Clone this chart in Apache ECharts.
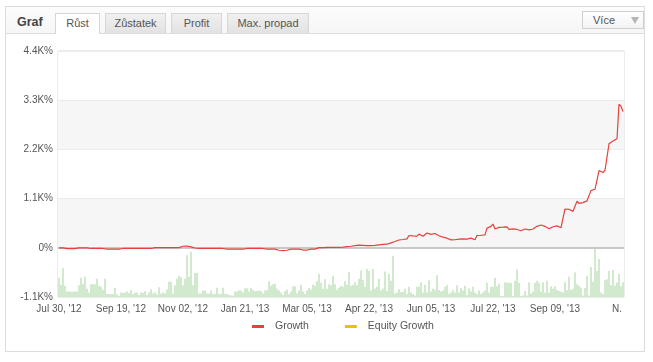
<!DOCTYPE html>
<html>
<head>
<meta charset="utf-8">
<script src="https://cdn.jsdelivr.net/npm/echarts@6/dist/echarts.min.js"></script>
<style>
  html,body{margin:0;padding:0;background:#fff;width:653px;height:362px;overflow:hidden;font-family:"Liberation Sans",Arial,sans-serif;}
  #panel{position:absolute;left:5px;top:6px;width:640px;height:346px;border:1px solid #dcdcdc;box-sizing:border-box;background:#fff;}
  #head{position:absolute;left:0;top:0;width:638px;height:26px;background:linear-gradient(#fcfcfc,#f6f6f6);border-bottom:1px solid #dcdcdc;}
  .t{position:absolute;top:6px;height:20px;box-sizing:border-box;font-size:11px;color:#555;line-height:19px;text-align:center;border:1px solid #d6d6d6;border-bottom:none;background:linear-gradient(#f0f0f0,#e2e2e2);}
  .t.a{background:#fff;height:21px;}
  #graf{position:absolute;left:11px;top:6px;font-size:12.5px;font-weight:bold;color:#444;line-height:19px;}
  #vice{position:absolute;left:576px;top:4px;width:62px;height:18px;box-sizing:border-box;border:1px solid #d0d0d0;background:linear-gradient(#fff,#f3f3f3);font-size:11px;color:#555;line-height:16px;}
  #vice span{position:absolute;left:10px;}
  #tri{position:absolute;left:48px;top:5px;width:0;height:0;border-left:4px solid transparent;border-right:4px solid transparent;border-top:7px solid #b5b5b5;}
  #chart{position:absolute;left:0;top:0;width:653px;height:362px;}
</style>
</head>
<body>
<div id="panel">
  <div id="head"></div>
  <div id="graf">Graf</div>
  <div class="t a" style="left:49px;width:45px;">Růst</div>
  <div class="t" style="left:99px;width:61px;">Zůstatek</div>
  <div class="t" style="left:165px;width:51px;">Profit</div>
  <div class="t" style="left:221px;width:82px;">Max. propad</div>
  <div id="vice"><span>Více</span><div id="tri"></div></div>
</div>
<div id="chart"></div>
<script>
// Tick labels of the category axis (one every 31 points)
const tickLabels = ["Jul 30, '12","Sep 19, '12","Nov 02, '12","Jan 21, '13","Mar 05, '13","Apr 22, '13","Jun 05, '13","Jul 22, '13","Sep 09, '13","N."];
const tickEvery = 31;

// Growth (%) per point
const growth = [
  0,0,0,-20,-20,-20,-20,-20,-20,0,0,0,0,0,0,-15,-15,-15,-15,-15,-15,-15,-15,
  -30,-30,-30,-30,-30,-30,-30,-30,-30,
  -15,-15,-15,-15,-15,-15,-15,-15,-15,-15,-15,-15,-15,-15,-15,-15,
  5,5,5,5,5,5,5,5,5,5,5,5,5,
  20,35,40,40,35,20,-5,-5,-5,
  -15,-15,-15,-15,-15,-15,-15,-15,-15,-15,-15,-15,-15,
  -30,-30,-30,-30,-30,-30,-30,-30,-30,-30,-30,
  -15,-15,-15,-15,-15,-15,-15,-15,-15,-15,
  -30,-30,-30,-30,-30,
  -45,-55,-60,-62,-60,-55,-45,
  -30,-30,-30,-30,-30,
  -50,-50,-50,-50,
  -30,-30,-30,-30,-30,
  5,5,6,7,8,8,9,10,10,10,
  10,12,15,20,25,30,35,42,50,55,
  60,58,55,52,50,50,50,
  50,55,60,65,70,75,80,
  80,95,110,
  120,140,160,
  175,180,185,190,
  200,275,270,265,260,260,305,280,260,300,330,290,300,310,320,295,270,
  255,240,225,215,180,178,180,180,215,195,180,200,215,195,205,215,200,180,275,
  278,280,285,290,441,450,480,531,419,440,456,460,462,465,470,411,420,425,430,
  410,395,381,400,420,441,400,410,420,450,480,501,510,516,480,450,426,426,470,
  509,490,470,450,426,868,865,860,840,815,930,1040,995,1005,1010,1017,1050,1085,
  1279,1295,1309,1320,1728,1705,1683,1730,1773,2326,2355,2386,2410,2439,3209,3164,3044
];
const equityGrowth = [];

// Activity bars (relative height, 100 = full lower band)
const activity = [
  39,25,59,23,11,11,11,11,11,11,24,39,26,41,17,9,26,26,26,37,23,21,14,37,6,6,6,6,19,5,
  2,9,8,9,11,8,14,6,9,9,4,9,8,12,4,9,16,7,9,5,20,7,9,7,15,31,31,7,24,37,43,40,24,37,85,41,92,24,49,49,
  7,7,13,13,7,7,13,6,6,19,6,6,19,6,6,4,3,3,11,11,13,13,9,18,18,11,19,14,12,12,
  13,12,7,13,14,32,23,26,27,17,13,9,4,12,15,6,11,22,22,7,13,25,11,6,13,19,15,25,23,32,
  47,29,17,36,17,26,24,43,26,14,19,
  23,21,32,25,51,23,25,30,24,37,54,35,21,57,53,13,57,17,21,37,13,17,52,12,47,33,84,7,9,16,
  10,10,17,6,21,9,6,3,21,21,30,9,25,9,34,11,17,14,44,14,11,13,21,24,6,9,14,9,24,9,
  18,13,23,4,18,11,21,9,6,13,6,
  9,13,29,9,21,21,39,22,27,2,2,30,29,29,29,2,33,56,29,2,3,12,3,30,7,11,29,33,29,11,
  30,9,33,9,22,17,22,14,12,11,9,30,14,41,14,17,50,26,23,19,3,19,43,3,61,31,99,53,77,9,
  6,34,36,53,24,55,23,29,47,22,30
];

const n = Math.max(growth.length, activity.length);
const categories = Array.from({length: n}, (_, i) => String(i));

const chart = echarts.init(document.getElementById('chart'), null, {renderer: 'canvas'});
const font = '"Liberation Sans", Arial, sans-serif';
chart.setOption({
  animation: false,
  backgroundColor: 'transparent',
  textStyle: {fontFamily: font},
  grid: {left: 58, top: 51, width: 566, height: 246, show: true, borderColor: '#dadada', borderWidth: 1, backgroundColor: '#fff'},
  legend: {
    left: 247, top: 316, itemWidth: 12, itemHeight: 3, itemGap: 36, icon: 'rect',
    textStyle: {color: '#555', fontSize: 10.5, fontFamily: font, padding: [0, 0, 0, 6]},
    data: ['Growth', 'Equity Growth']
  },
  xAxis: {
    type: 'category', data: categories, boundaryGap: true,
    axisLine: {show: false, onZero: false}, axisTick: {show: false},
    axisLabel: {
      interval: tickEvery - 1, margin: 7, color: '#555', fontSize: 10, fontFamily: font,
      formatter: (v) => { const i = +v; return i % tickEvery === 0 ? (tickLabels[i / tickEvery] || '') : ''; }
    },
    splitLine: {show: false}
  },
  yAxis: [{
    type: 'value', min: -1100, max: 4400, interval: 1100,
    axisLine: {show: false}, axisTick: {show: false},
    axisLabel: {margin: 5, color: '#555', fontSize: 10, fontFamily: font,
      formatter: (v) => v === 0 ? '0%' : (v / 1000).toFixed(1) + 'K%'},
    splitLine: {show: true, lineStyle: {color: '#ebebeb', width: 1}},
    splitArea: {show: true, areaStyle: {color: ['#ffffff', '#f6f6f6']}}
  }, {
    type: 'value', min: 0, max: 500, show: false, splitLine: {show: false}
  }],
  series: [{
    name: 'Activity', type: 'bar', yAxisIndex: 1, data: activity, barCategoryGap: '35%',
    itemStyle: {color: '#b9dfb2'}, silent: true, legendHoverLink: false
  }, {
    name: 'Growth', type: 'line', data: growth, symbol: 'none', z: 5,
    lineStyle: {color: '#e8403c', width: 1.2}, itemStyle: {color: '#e8403c'},
    markLine: {silent: true, symbol: 'none', label: {show: false},
      lineStyle: {color: '#c8c8c8', width: 2, type: 'solid'}, data: [{yAxis: 0}], z: 3}
  }, {
    name: 'Equity Growth', type: 'line', data: equityGrowth, symbol: 'none',
    lineStyle: {color: '#f2c000', width: 1}, itemStyle: {color: '#f2c000'}
  }]
});
</script>
</body>
</html>
